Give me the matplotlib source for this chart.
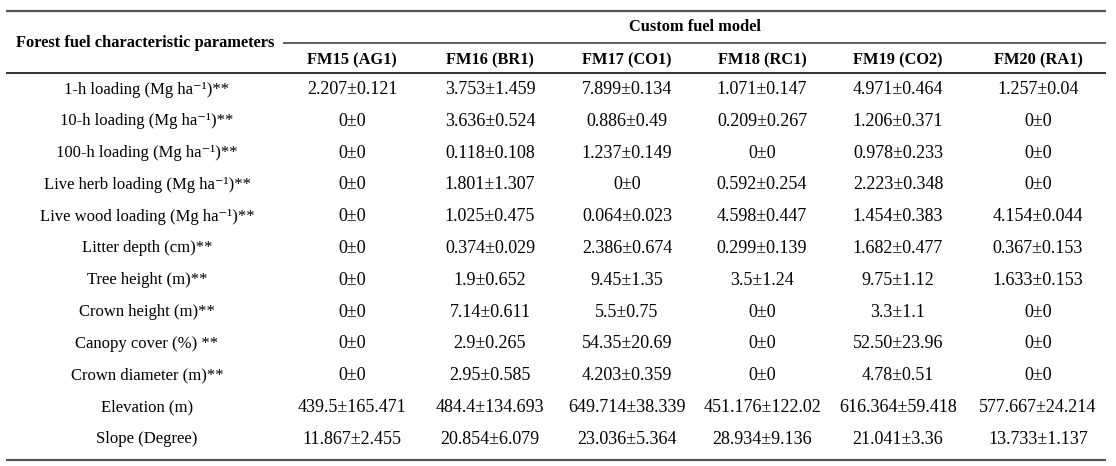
import matplotlib
matplotlib.use("Agg")
import matplotlib.pyplot as plt

plt.rcParams['font.family'] = ['Liberation Serif', 'DejaVu Serif']

header_left = "Forest fuel characteristic parameters"
group_header = "Custom fuel model"
models = ["FM15 (AG1)", "FM16 (BR1)", "FM17 (CO1)", "FM18 (RC1)", "FM19 (CO2)", "FM20 (RA1)"]

parameters = [
    "1-h loading (Mg ha⁻¹)**",
    "10-h loading (Mg ha⁻¹)**",
    "100-h loading (Mg ha⁻¹)**",
    "Live herb loading (Mg ha⁻¹)**",
    "Live wood loading (Mg ha⁻¹)**",
    "Litter depth (cm)**",
    "Tree height (m)**",
    "Crown height (m)**",
    "Canopy cover (%) **",
    "Crown diameter (m)**",
    "Elevation (m)",
    "Slope (Degree)",
]

fm15 = ["2.207±0.121", "0±0", "0±0", "0±0", "0±0", "0±0", "0±0", "0±0", "0±0", "0±0",
        "439.5±165.471", "11.867±2.455"]
fm16 = ["3.753±1.459", "3.636±0.524", "0.118±0.108", "1.801±1.307", "1.025±0.475", "0.374±0.029",
        "1.9±0.652", "7.14±0.611", "2.9±0.265", "2.95±0.585", "484.4±134.693", "20.854±6.079"]
fm17 = ["7.899±0.134", "0.886±0.49", "1.237±0.149", "0±0", "0.064±0.023", "2.386±0.674",
        "9.45±1.35", "5.5±0.75", "54.35±20.69", "4.203±0.359", "649.714±38.339", "23.036±5.364"]
fm18 = ["1.071±0.147", "0.209±0.267", "0±0", "0.592±0.254", "4.598±0.447", "0.299±0.139",
        "3.5±1.24", "0±0", "0±0", "0±0", "451.176±122.02", "28.934±9.136"]
fm19 = ["4.971±0.464", "1.206±0.371", "0.978±0.233", "2.223±0.348", "1.454±0.383", "1.682±0.477",
        "9.75±1.12", "3.3±1.1", "52.50±23.96", "4.78±0.51", "616.364±59.418", "21.041±3.36"]
fm20 = ["1.257±0.04", "0±0", "0±0", "0±0", "4.154±0.044", "0.367±0.153",
        "1.633±0.153", "0±0", "0±0", "0±0", "577.667±24.214", "13.733±1.137"]
columns = [fm15, fm16, fm17, fm18, fm19, fm20]

W, H = 1116, 466
fig = plt.figure(figsize=(W / 100, H / 100), dpi=100)
ax = fig.add_axes([0, 0, 1, 1])
ax.set_xlim(0, W)
ax.set_ylim(H, 0)
ax.axis("off")

FS_LABEL = 12.0
FS_DATA = 13.0
FS_BOLD = 11.8
label_x = 147
col_x = [352, 490, 627, 762, 898, 1038]
row_y0, row_dy = 89.5, 31.8

# rules
ax.plot([6, 1106], [11, 11], color="#555555", lw=1.6, solid_capstyle="butt")
ax.plot([283, 1106], [43, 43], color="#444444", lw=1.2, solid_capstyle="butt")
ax.plot([6, 1106], [73, 73], color="#111111", lw=1.2, solid_capstyle="butt")
ax.plot([6, 1106], [460, 460], color="#555555", lw=1.6, solid_capstyle="butt")

ax.text(145, 43, header_left, ha="center", va="center", fontsize=FS_BOLD, fontweight="bold")
ax.text(695, 27, group_header, ha="center", va="center", fontsize=FS_BOLD, fontweight="bold")
for x, m in zip(col_x, models):
    ax.text(x, 60, m, ha="center", va="center", fontsize=FS_BOLD, fontweight="bold")

for i, p in enumerate(parameters):
    y = row_y0 + i * row_dy
    ax.text(label_x, y, p, ha="center", va="center", fontsize=FS_LABEL)
    for x, col in zip(col_x, columns):
        ax.text(x, y, col[i], ha="center", va="center", fontsize=FS_DATA)

fig.savefig("out.png", dpi=100)
